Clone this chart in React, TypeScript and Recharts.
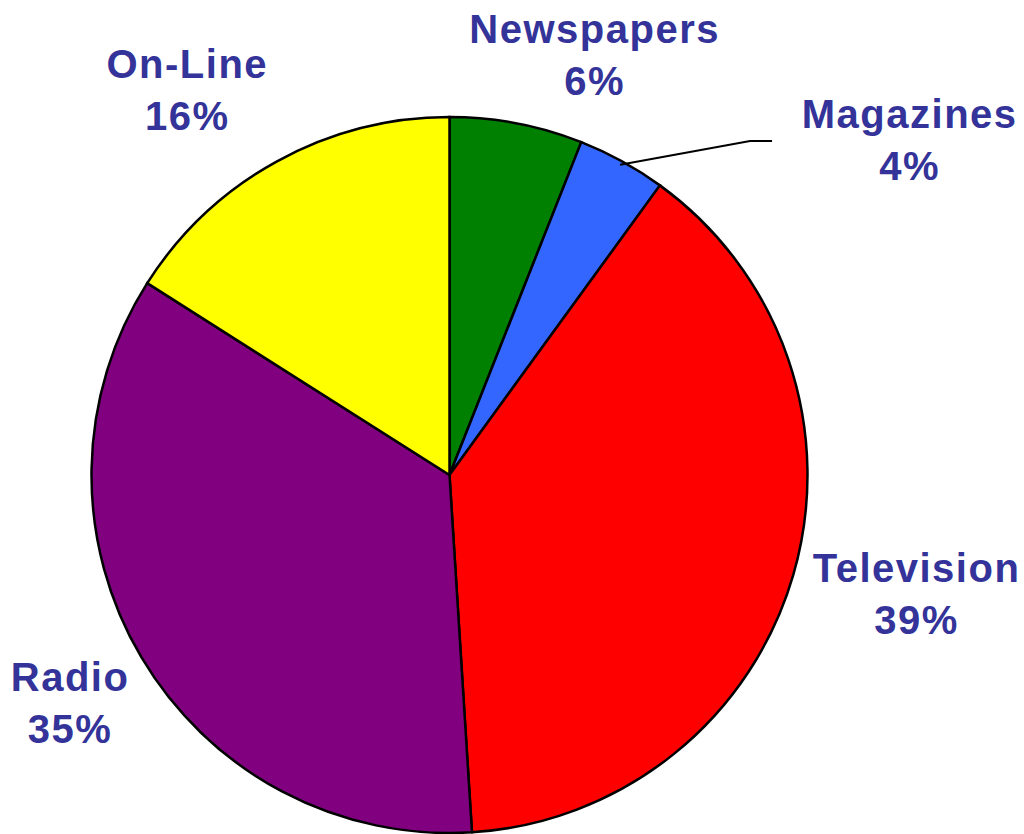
import React from "react";
import { PieChart, Pie, Cell } from "recharts";

const categories = ["Newspapers", "Magazines", "Television", "Radio", "On-Line"];
const shares = [6, 4, 39, 35, 16];
const percentLabels = ["6%", "4%", "39%", "35%", "16%"];
const sliceColors = ["#008000", "#3366FF", "#FF0000", "#800080", "#FFFF00"];

const data = categories.map((name, i) => ({ name, value: shares[i], pct: percentLabels[i] }));

// label layout: nudge from a point at outerRadius + 70 along the mid angle
const labelNudge: Record<string, [number, number]> = {
  Newspapers: [65, -12],
  Magazines: [254, 28],
  Television: [56, -12],
  Radio: [-11, -2],
  "On-Line": [-56, -22],
};

const RAD = Math.PI / 180;

const renderLabel = (props: any) => {
  const { cx, cy, midAngle, outerRadius, name, payload } = props;
  const r = outerRadius + 70;
  const bx = cx + r * Math.cos(-midAngle * RAD);
  const by = cy + r * Math.sin(-midAngle * RAD);
  const [nx, ny] = labelNudge[name] || [0, 0];
  const x = bx + nx;
  const y = by + ny;
  let line: React.ReactNode = null;
  if (name === "Magazines") {
    const sx = cx + (outerRadius - 4) * Math.cos(-midAngle * RAD);
    const sy = cy + (outerRadius - 4) * Math.sin(-midAngle * RAD);
    const ex = sx + 130;
    const ey = y + 13;
    line = (
      <polyline
        points={`${sx},${sy} ${ex},${ey} ${ex + 22},${ey}`}
        fill="none"
        stroke="#000"
        strokeWidth={2}
      />
    );
  }
  return (
    <g>
      {line}
      <text
        x={x}
        y={y}
        textAnchor="middle"
        fill="#333399"
        fontFamily="'Liberation Sans', Arial, sans-serif"
        fontWeight="bold"
        fontSize={40}
        letterSpacing={1.5}
      >
        <tspan x={x} dy={0}>{name}</tspan>
        <tspan x={x} dy={52}>{payload?.pct ?? ""}</tspan>
      </text>
    </g>
  );
};

export default function App() {
  return (
    <div style={{ position: "absolute", left: 0, top: 0, width: 1024, height: 834, background: "#fff" }}>
      <PieChart width={1024} height={834} margin={{ top: 0, right: 0, bottom: 0, left: 0 }}>
        <Pie
          data={data}
          dataKey="value"
          nameKey="name"
          cx={449.5}
          cy={475}
          outerRadius={358}
          startAngle={90}
          endAngle={-270}
          stroke="#000"
          strokeWidth={2.5}
          label={renderLabel}
          labelLine={false}
          isAnimationActive={false}
        >
          {data.map((d, i) => (
            <Cell key={d.name} fill={sliceColors[i]} />
          ))}
        </Pie>
      </PieChart>
    </div>
  );
}
